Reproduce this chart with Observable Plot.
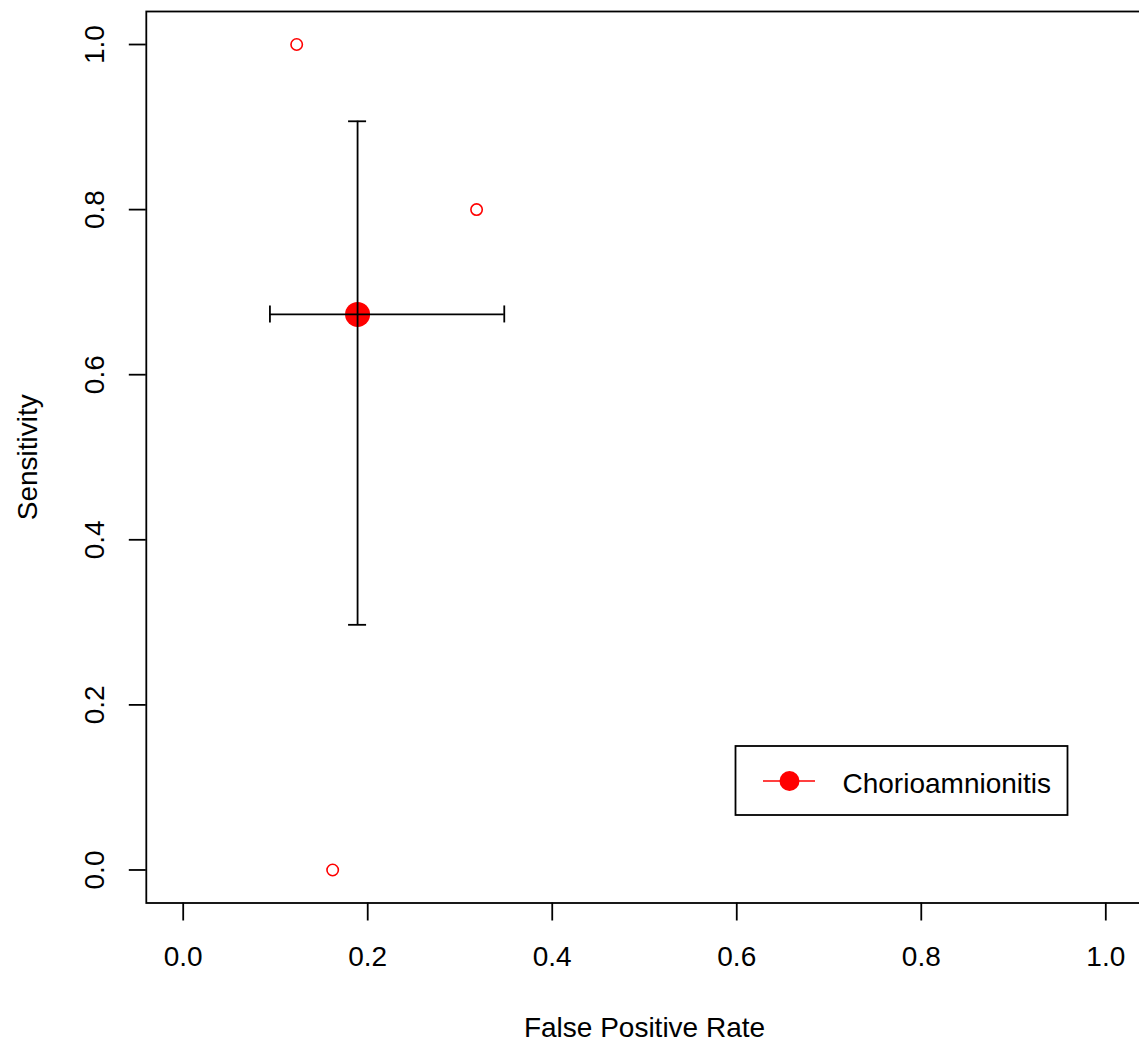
<!DOCTYPE html>
<html>
<head>
<meta charset="utf-8">
<script src="https://cdn.jsdelivr.net/npm/d3@7"></script>
<script src="https://cdn.jsdelivr.net/npm/@observablehq/plot@0.6"></script>
<style>
  html, body { margin: 0; padding: 0; background: #fff; overflow: hidden; }
  #chart { position: relative; width: 1139px; height: 1043px; overflow: hidden; }
  #chart svg { max-width: none !important; }
</style>
</head>
<body>
<div id="chart"></div>
<script>
// Individual study estimates (red open circles)
const studyFpr = [0.123, 0.318, 0.162];
const studySens = [1.0, 0.8, 0.0];

// Summary estimate with confidence intervals
const summaryFpr = [0.189];
const summarySens = [0.673];
const summaryFprLo = [0.094];
const summaryFprHi = [0.348];
const summarySensLo = [0.297];
const summarySensHi = [0.907];

const xTicks = [0.0, 0.2, 0.4, 0.6, 0.8, 1.0];
const yTicks = [0.0, 0.2, 0.4, 0.6, 0.8, 1.0];
const xLabel = "False Positive Rate";
const yLabel = "Sensitivity";
const legendLabels = ["Chorioamnionitis"];

const studies = studyFpr.map((f, i) => ({fpr: f, sens: studySens[i]}));
const summary = summaryFpr.map((f, i) => ({
  fpr: f, sens: summarySens[i],
  fprLo: summaryFprLo[i], fprHi: summaryFprHi[i],
  sensLo: summarySensLo[i], sensHi: summarySensHi[i]
}));

const font = "'Liberation Sans', Arial, Helvetica, sans-serif";
const fmt = d3.format(".1f");
const lw = 1.8;

const chart = Plot.plot({
  width: 1143,
  height: 1043,
  marginLeft: 145.8,
  marginRight: 0.8,
  marginTop: 11,
  marginBottom: 140.5,
  x: {domain: [-0.04, 1.04]},
  y: {domain: [-0.04, 1.04]},
  style: {fontFamily: font, fontSize: "28px", color: "#000", background: "#fff", maxWidth: "none"},
  marks: [
    Plot.axisX(xTicks, {tickSize: 18, tickPadding: 25.5, tickFormat: fmt, fontSize: 28, strokeWidth: lw, label: null}),
    Plot.axisY(yTicks, {tickSize: 17, tickPadding: 25.3, tickRotate: -90, tickFormat: fmt, fontSize: 28, strokeWidth: lw, label: null}),
    Plot.text([xLabel], {frameAnchor: "bottom", textAnchor: "middle", lineAnchor: "bottom", dy: 134, fontSize: 28, fill: "#000"}),
    Plot.text([yLabel], {frameAnchor: "left", textAnchor: "middle", rotate: -90, lineAnchor: "bottom", dx: -109.3, fontSize: 28, fill: "#000"}),
    Plot.dot(studies, {x: "fpr", y: "sens", r: 5.7, stroke: "#ff0000", strokeWidth: 1.6, fill: "none"}),
    Plot.dot(summary, {x: "fpr", y: "sens", r: 12.5, fill: "#ff0000", stroke: "none"}),
    Plot.ruleX(summary, {x: "fpr", y1: "sensLo", y2: "sensHi", stroke: "#000", strokeWidth: lw}),
    Plot.ruleY(summary, {y: "sens", x1: "fprLo", x2: "fprHi", stroke: "#000", strokeWidth: lw}),
    Plot.ruleY(summary, {y: "sensHi", x1: "fpr", x2: "fpr", insetLeft: -9, insetRight: -9, stroke: "#000", strokeWidth: lw}),
    Plot.ruleY(summary, {y: "sensLo", x1: "fpr", x2: "fpr", insetLeft: -9, insetRight: -9, stroke: "#000", strokeWidth: lw}),
    Plot.ruleX(summary, {x: "fprLo", y1: "sens", y2: "sens", insetTop: -8.5, insetBottom: -8.5, stroke: "#000", strokeWidth: lw}),
    Plot.ruleX(summary, {x: "fprHi", y1: "sens", y2: "sens", insetTop: -8.5, insetBottom: -8.5, stroke: "#000", strokeWidth: lw}),
    Plot.frame({stroke: "#000", strokeWidth: lw})
  ]
});
chart.style.maxWidth = "none";
chart.setAttribute("width", 1143);
chart.setAttribute("height", 1043);

// Legend drawn inside the plot area, as in the original
const lg = d3.select(chart).append("g").attr("text-anchor", "start");
lg.append("rect")
  .attr("x", 735.5).attr("y", 746).attr("width", 332).attr("height", 69)
  .attr("fill", "#fff").attr("stroke", "#000").attr("stroke-width", lw);
legendLabels.forEach((label, i) => {
  const cy = 781 + i * 40;
  lg.append("line")
    .attr("x1", 763).attr("x2", 815).attr("y1", cy).attr("y2", cy)
    .attr("stroke", "#ff0000").attr("stroke-width", 1.6);
  lg.append("circle")
    .attr("cx", 789.5).attr("cy", cy).attr("r", 10).attr("fill", "#ff0000");
  lg.append("text")
    .attr("x", 842.5).attr("y", cy + 12)
    .attr("text-anchor", "start")
    .attr("font-family", font).attr("font-size", 28).attr("fill", "#000")
    .text(label);
});

document.getElementById("chart").appendChild(chart);
</script>
</body>
</html>
